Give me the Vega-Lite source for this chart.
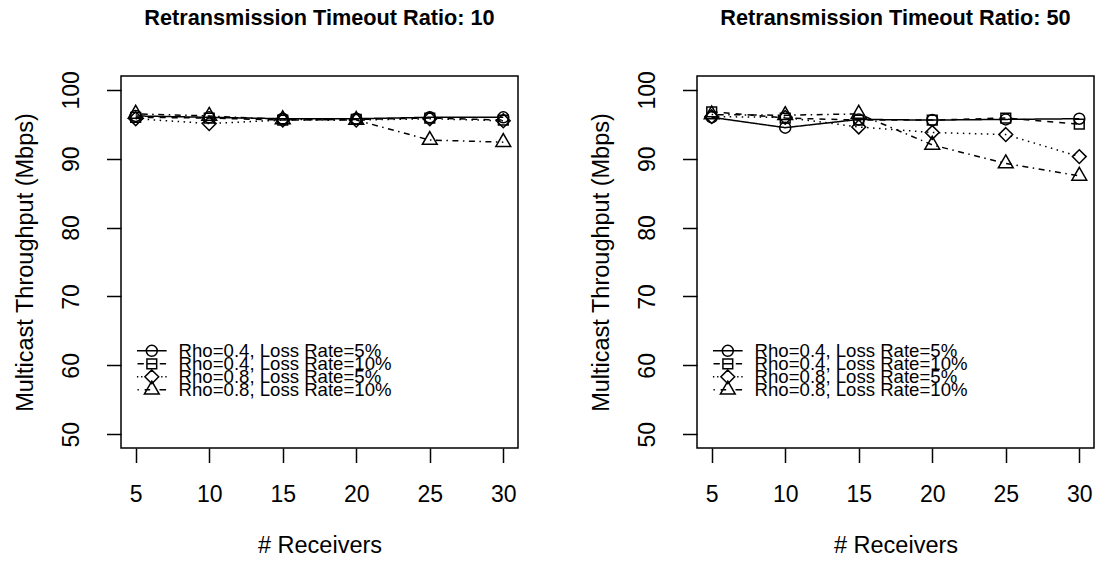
{
  "$schema": "https://vega.github.io/schema/vega-lite/v6.json",
  "padding": {"left": 12, "top": 7, "right": 3, "bottom": 3},
  "background": "white",
  "bounds": "flush",
  "spacing": 179,
  "config": {
    "font": "Liberation Sans",
    "view": {"stroke": "black", "strokeWidth": 1.5},
    "axis": {
      "domain": false, "grid": false, "tickColor": "black", "tickWidth": 1.5, "tickSize": 14.5,
      "labelFont": "Liberation Sans", "labelFontSize": 23, "labelColor": "black",
      "titleFont": "Liberation Sans", "titleFontSize": 23.5, "titleFontWeight": "normal", "titleColor": "black"
    },
    "legend": {
      "padding": 0, "labelFont": "Liberation Sans", "labelFontSize": 18.6, "labelColor": "black",
      "symbolSize": 121, "symbolStrokeColor": "black", "symbolFillColor": "transparent", "symbolStrokeWidth": 1.5, "symbolOpacity": 1,
      "labelOffset": 17.5, "labelLimit": 400, "title": null, "orient": "none", "legendX": 21.5
    },
    "title": {"font": "Liberation Sans", "fontSize": 21.7, "fontWeight": "bold", "color": "black", "anchor": "middle", "baseline": "alphabetic", "offset": 41, "frame": "group"}
  },
  "data": {"values": [
    {"ratio": 10, "receivers": 5, "series": "Rho=0.4, Loss Rate=5%", "throughput": 96.2},
    {"ratio": 10, "receivers": 10, "series": "Rho=0.4, Loss Rate=5%", "throughput": 96.0},
    {"ratio": 10, "receivers": 15, "series": "Rho=0.4, Loss Rate=5%", "throughput": 95.8},
    {"ratio": 10, "receivers": 20, "series": "Rho=0.4, Loss Rate=5%", "throughput": 95.8},
    {"ratio": 10, "receivers": 25, "series": "Rho=0.4, Loss Rate=5%", "throughput": 96.0},
    {"ratio": 10, "receivers": 30, "series": "Rho=0.4, Loss Rate=5%", "throughput": 96.0},
    {"ratio": 10, "receivers": 5, "series": "Rho=0.4, Loss Rate=10%", "throughput": 96.0},
    {"ratio": 10, "receivers": 10, "series": "Rho=0.4, Loss Rate=10%", "throughput": 95.9},
    {"ratio": 10, "receivers": 15, "series": "Rho=0.4, Loss Rate=10%", "throughput": 95.6},
    {"ratio": 10, "receivers": 20, "series": "Rho=0.4, Loss Rate=10%", "throughput": 95.7},
    {"ratio": 10, "receivers": 25, "series": "Rho=0.4, Loss Rate=10%", "throughput": 95.9},
    {"ratio": 10, "receivers": 30, "series": "Rho=0.4, Loss Rate=10%", "throughput": 95.6},
    {"ratio": 10, "receivers": 5, "series": "Rho=0.8, Loss Rate=5%", "throughput": 95.8},
    {"ratio": 10, "receivers": 10, "series": "Rho=0.8, Loss Rate=5%", "throughput": 95.1},
    {"ratio": 10, "receivers": 15, "series": "Rho=0.8, Loss Rate=5%", "throughput": 95.6},
    {"ratio": 10, "receivers": 20, "series": "Rho=0.8, Loss Rate=5%", "throughput": 95.6},
    {"ratio": 10, "receivers": 25, "series": "Rho=0.8, Loss Rate=5%", "throughput": 95.8},
    {"ratio": 10, "receivers": 30, "series": "Rho=0.8, Loss Rate=5%", "throughput": 95.5},
    {"ratio": 10, "receivers": 5, "series": "Rho=0.8, Loss Rate=10%", "throughput": 96.5},
    {"ratio": 10, "receivers": 10, "series": "Rho=0.8, Loss Rate=10%", "throughput": 96.2},
    {"ratio": 10, "receivers": 15, "series": "Rho=0.8, Loss Rate=10%", "throughput": 95.7},
    {"ratio": 10, "receivers": 20, "series": "Rho=0.8, Loss Rate=10%", "throughput": 95.6},
    {"ratio": 10, "receivers": 25, "series": "Rho=0.8, Loss Rate=10%", "throughput": 92.7},
    {"ratio": 10, "receivers": 30, "series": "Rho=0.8, Loss Rate=10%", "throughput": 92.4},
    {"ratio": 50, "receivers": 5, "series": "Rho=0.4, Loss Rate=5%", "throughput": 96.0},
    {"ratio": 50, "receivers": 10, "series": "Rho=0.4, Loss Rate=5%", "throughput": 94.5},
    {"ratio": 50, "receivers": 15, "series": "Rho=0.4, Loss Rate=5%", "throughput": 95.7},
    {"ratio": 50, "receivers": 20, "series": "Rho=0.4, Loss Rate=5%", "throughput": 95.6},
    {"ratio": 50, "receivers": 25, "series": "Rho=0.4, Loss Rate=5%", "throughput": 95.7},
    {"ratio": 50, "receivers": 30, "series": "Rho=0.4, Loss Rate=5%", "throughput": 95.8},
    {"ratio": 50, "receivers": 5, "series": "Rho=0.4, Loss Rate=10%", "throughput": 96.8},
    {"ratio": 50, "receivers": 10, "series": "Rho=0.4, Loss Rate=10%", "throughput": 95.9},
    {"ratio": 50, "receivers": 15, "series": "Rho=0.4, Loss Rate=10%", "throughput": 95.6},
    {"ratio": 50, "receivers": 20, "series": "Rho=0.4, Loss Rate=10%", "throughput": 95.6},
    {"ratio": 50, "receivers": 25, "series": "Rho=0.4, Loss Rate=10%", "throughput": 95.9},
    {"ratio": 50, "receivers": 30, "series": "Rho=0.4, Loss Rate=10%", "throughput": 95.0},
    {"ratio": 50, "receivers": 5, "series": "Rho=0.8, Loss Rate=5%", "throughput": 96.1},
    {"ratio": 50, "receivers": 10, "series": "Rho=0.8, Loss Rate=5%", "throughput": 96.0},
    {"ratio": 50, "receivers": 15, "series": "Rho=0.8, Loss Rate=5%", "throughput": 94.6},
    {"ratio": 50, "receivers": 20, "series": "Rho=0.8, Loss Rate=5%", "throughput": 93.8},
    {"ratio": 50, "receivers": 25, "series": "Rho=0.8, Loss Rate=5%", "throughput": 93.5},
    {"ratio": 50, "receivers": 30, "series": "Rho=0.8, Loss Rate=5%", "throughput": 90.3},
    {"ratio": 50, "receivers": 5, "series": "Rho=0.8, Loss Rate=10%", "throughput": 96.4},
    {"ratio": 50, "receivers": 10, "series": "Rho=0.8, Loss Rate=10%", "throughput": 96.3},
    {"ratio": 50, "receivers": 15, "series": "Rho=0.8, Loss Rate=10%", "throughput": 96.5},
    {"ratio": 50, "receivers": 20, "series": "Rho=0.8, Loss Rate=10%", "throughput": 92.0},
    {"ratio": 50, "receivers": 25, "series": "Rho=0.8, Loss Rate=10%", "throughput": 89.3},
    {"ratio": 50, "receivers": 30, "series": "Rho=0.8, Loss Rate=10%", "throughput": 87.5}
  ]},
  "hconcat": [
    {
      "title": "Retransmission Timeout Ratio: 10",
      "width": 397, "height": 372,
      "transform": [{"filter": "datum.ratio == 10"}],
      "encoding": {
        "x": {"field": "receivers", "type": "quantitative", "title": "# Receivers",
              "scale": {"domain": [4, 31], "nice": false, "zero": false},
              "axis": {"values": [5, 10, 15, 20, 25, 30], "labelPadding": 21, "titlePadding": 27, "labelFlush": false}},
        "y": {"field": "throughput", "type": "quantitative", "title": "Multicast Throughput (Mbps)",
              "scale": {"domain": [48, 102], "nice": false, "zero": false},
              "axis": {"values": [50, 60, 70, 80, 90, 100], "labelAngle": 270, "labelAlign": "center", "labelBaseline": "bottom", "labelPadding": 23, "titlePadding": 23, "labelFlush": false}}
      },
      "resolve": {"scale": {"shape": "independent"}, "legend": {"shape": "independent"}},
      "layer": [
        {"mark": {"type": "line", "color": "black", "strokeWidth": 1.5},
         "encoding": {"strokeDash": {"field": "series", "type": "nominal", "legend": null,
            "scale": {"domain": ["Rho=0.4, Loss Rate=5%", "Rho=0.4, Loss Rate=10%", "Rho=0.8, Loss Rate=5%", "Rho=0.8, Loss Rate=10%"],
                      "range": [[1, 0], [6, 6], [1.5, 4.5], [1.5, 4.5, 6, 4.5]]}}}},
        {"mark": {"type": "point", "filled": false, "color": "black", "strokeWidth": 1.5, "size": 121, "opacity": 1},
         "encoding": {"shape": {"field": "series", "type": "nominal", "legend": null,
            "scale": {"domain": ["Rho=0.4, Loss Rate=5%", "Rho=0.4, Loss Rate=10%", "Rho=0.8, Loss Rate=5%", "Rho=0.8, Loss Rate=10%"],
                      "range": ["M1,0A1,1 0 1,1 -1,0A1,1 0 1,1 1,0Z", "M-0.886,-0.886H0.886V0.886H-0.886Z", "M0,-1.253L1.253,0L0,1.253L-1.253,0Z", "M0,-1.555L1.347,0.778L-1.347,0.778Z"]}}}},
        {"transform": [{"filter": "datum.receivers < 0"}],
         "mark": {"type": "point", "filled": false, "color": "black", "strokeWidth": 1.5, "size": 121, "opacity": 1},
         "encoding": {"shape": {"field": "series", "type": "nominal",
            "scale": {"domain": ["Rho=0.4, Loss Rate=5%"], "range": ["M-2.7,0H2.7M1,0A1,1 0 1,1 -1,0A1,1 0 1,1 1,0Z"]},
            "legend": {"legendY": 265.5}}}},
        {"transform": [{"filter": "datum.receivers < 0"}],
         "mark": {"type": "point", "filled": false, "color": "black", "strokeWidth": 1.5, "size": 121, "opacity": 1},
         "encoding": {"shape": {"field": "series", "type": "nominal",
            "scale": {"domain": ["Rho=0.4, Loss Rate=10%"], "range": ["M-2.6,0H-1.45M-0.886,0H0.886M1.45,0H2.6M-0.886,-0.886H0.886V0.886H-0.886Z"]},
            "legend": {"legendY": 278.5}}}},
        {"transform": [{"filter": "datum.receivers < 0"}],
         "mark": {"type": "point", "filled": false, "color": "black", "strokeWidth": 1.5, "size": 121, "opacity": 1},
         "encoding": {"shape": {"field": "series", "type": "nominal",
            "scale": {"domain": ["Rho=0.8, Loss Rate=5%"], "range": ["M-2.7,0H-2.45M-1.95,0H-1.7M1.7,0H1.95M2.45,0H2.7M0,-1.253L1.253,0L0,1.253L-1.253,0Z"]},
            "legend": {"legendY": 291.5}}}},
        {"transform": [{"filter": "datum.receivers < 0"}],
         "mark": {"type": "point", "filled": false, "color": "black", "strokeWidth": 1.5, "size": 121, "opacity": 1},
         "encoding": {"shape": {"field": "series", "type": "nominal",
            "scale": {"domain": ["Rho=0.8, Loss Rate=10%"], "range": ["M-2.6,0H-2.35M-1.3,0H-0.3M1.4,0H2.6M0,-1.555L1.347,0.778L-1.347,0.778Z"]},
            "legend": {"legendY": 304.5}}}}
      ]
    },
    {
      "title": "Retransmission Timeout Ratio: 50",
      "width": 397, "height": 372,
      "transform": [{"filter": "datum.ratio == 50"}],
      "encoding": {
        "x": {"field": "receivers", "type": "quantitative", "title": "# Receivers",
              "scale": {"domain": [4, 31], "nice": false, "zero": false},
              "axis": {"values": [5, 10, 15, 20, 25, 30], "labelPadding": 21, "titlePadding": 27, "labelFlush": false}},
        "y": {"field": "throughput", "type": "quantitative", "title": "Multicast Throughput (Mbps)",
              "scale": {"domain": [48, 102], "nice": false, "zero": false},
              "axis": {"values": [50, 60, 70, 80, 90, 100], "labelAngle": 270, "labelAlign": "center", "labelBaseline": "bottom", "labelPadding": 23, "titlePadding": 23, "labelFlush": false}}
      },
      "resolve": {"scale": {"shape": "independent"}, "legend": {"shape": "independent"}},
      "layer": [
        {"mark": {"type": "line", "color": "black", "strokeWidth": 1.5},
         "encoding": {"strokeDash": {"field": "series", "type": "nominal", "legend": null,
            "scale": {"domain": ["Rho=0.4, Loss Rate=5%", "Rho=0.4, Loss Rate=10%", "Rho=0.8, Loss Rate=5%", "Rho=0.8, Loss Rate=10%"],
                      "range": [[1, 0], [6, 6], [1.5, 4.5], [1.5, 4.5, 6, 4.5]]}}}},
        {"mark": {"type": "point", "filled": false, "color": "black", "strokeWidth": 1.5, "size": 121, "opacity": 1},
         "encoding": {"shape": {"field": "series", "type": "nominal", "legend": null,
            "scale": {"domain": ["Rho=0.4, Loss Rate=5%", "Rho=0.4, Loss Rate=10%", "Rho=0.8, Loss Rate=5%", "Rho=0.8, Loss Rate=10%"],
                      "range": ["M1,0A1,1 0 1,1 -1,0A1,1 0 1,1 1,0Z", "M-0.886,-0.886H0.886V0.886H-0.886Z", "M0,-1.253L1.253,0L0,1.253L-1.253,0Z", "M0,-1.555L1.347,0.778L-1.347,0.778Z"]}}}},
        {"transform": [{"filter": "datum.receivers < 0"}],
         "mark": {"type": "point", "filled": false, "color": "black", "strokeWidth": 1.5, "size": 121, "opacity": 1},
         "encoding": {"shape": {"field": "series", "type": "nominal",
            "scale": {"domain": ["Rho=0.4, Loss Rate=5%"], "range": ["M-2.7,0H2.7M1,0A1,1 0 1,1 -1,0A1,1 0 1,1 1,0Z"]},
            "legend": {"legendY": 265.5}}}},
        {"transform": [{"filter": "datum.receivers < 0"}],
         "mark": {"type": "point", "filled": false, "color": "black", "strokeWidth": 1.5, "size": 121, "opacity": 1},
         "encoding": {"shape": {"field": "series", "type": "nominal",
            "scale": {"domain": ["Rho=0.4, Loss Rate=10%"], "range": ["M-2.6,0H-1.45M-0.886,0H0.886M1.45,0H2.6M-0.886,-0.886H0.886V0.886H-0.886Z"]},
            "legend": {"legendY": 278.5}}}},
        {"transform": [{"filter": "datum.receivers < 0"}],
         "mark": {"type": "point", "filled": false, "color": "black", "strokeWidth": 1.5, "size": 121, "opacity": 1},
         "encoding": {"shape": {"field": "series", "type": "nominal",
            "scale": {"domain": ["Rho=0.8, Loss Rate=5%"], "range": ["M-2.7,0H-2.45M-1.95,0H-1.7M1.7,0H1.95M2.45,0H2.7M0,-1.253L1.253,0L0,1.253L-1.253,0Z"]},
            "legend": {"legendY": 291.5}}}},
        {"transform": [{"filter": "datum.receivers < 0"}],
         "mark": {"type": "point", "filled": false, "color": "black", "strokeWidth": 1.5, "size": 121, "opacity": 1},
         "encoding": {"shape": {"field": "series", "type": "nominal",
            "scale": {"domain": ["Rho=0.8, Loss Rate=10%"], "range": ["M-2.6,0H-2.35M-1.3,0H-0.3M1.4,0H2.6M0,-1.555L1.347,0.778L-1.347,0.778Z"]},
            "legend": {"legendY": 304.5}}}}
      ]
    }
  ]
}
